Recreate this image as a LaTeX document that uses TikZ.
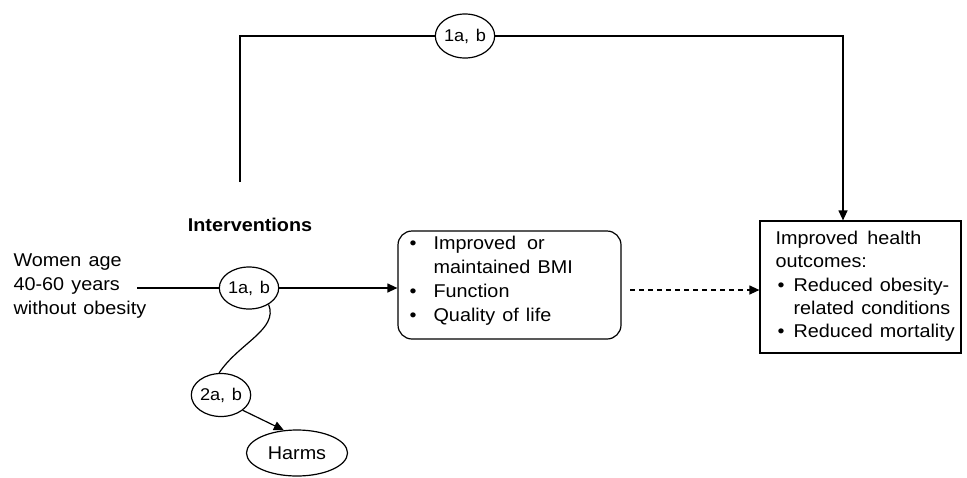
\documentclass[tikz,border=0pt]{standalone}
\usepackage{fontspec}
\setmainfont{Liberation Sans}[FakeStretch=1.07,WordSpace=1.3]
\usetikzlibrary{arrows.meta,shapes.geometric}
\begin{document}
\begin{tikzpicture}[x=1pt,y=-1pt,
  line width=1.2pt,
  txt/.style={font=\fontsize{18.5}{24}\selectfont, align=left, inner sep=0pt},
  lbl/.style={draw, ellipse, font=\fontsize{17}{19}\selectfont, inner sep=0pt,
    minimum width=56pt, minimum height=42pt, fill=white},
  arr/.style={-{Triangle[length=10pt,width=9pt]}},
  dsh/.style={dash pattern=on 5pt off 4pt},
]
\useasboundingbox (0,0) rectangle (967,477);

% nodes
\node[txt, anchor=west] (pop) at (13,286) {Women age\\40-60 years\\without obesity};
\node[txt, font=\bfseries\fontsize{18.5}{24}\selectfont] (int) at (250,225) {Interventions};
\node[lbl] (kq1) at (249,288) {1a, b};
\node[lbl, minimum width=58pt, minimum height=44pt] (kq0) at (465,36) {1a, b};
\node[lbl, minimum width=58pt, minimum height=43pt] (kq2) at (221,395) {2a, b};
\node[draw, ellipse, font=\fontsize{18.5}{20}\selectfont, inner sep=0pt,
  minimum width=101pt, minimum height=46pt] (harms) at (297,453) {Harms};

\node[draw, rounded corners=14pt, minimum width=223pt, minimum height=108pt,
  inner sep=0pt] (inter) at (509.5,285) {};
\node[txt, anchor=west] (intertxt) at (409,281)
  {\makebox[24pt][l]{•}Improved\hspace{0.6em}or\\
   \hspace*{24pt}maintained BMI\\
   \makebox[24pt][l]{•}Function\\
   \makebox[24pt][l]{•}Quality of life};

\node[draw, minimum width=201pt, minimum height=132pt, inner sep=0pt] (out) at (860.5,287) {};
\node[txt, font=\fontsize{18.5}{23.3}\selectfont, anchor=west] (outtxt) at (775,286.5)
  {Improved\hspace{0.5em}health\\
   outcomes:\\
   \hspace*{2pt}\makebox[16pt][l]{•}Reduced obesity-\\
   \hspace*{18pt}related conditions\\
   \hspace*{2pt}\makebox[16pt][l]{•}Reduced mortality};

% connectors
\coordinate (s) at (137,288);
\draw (s) -- (kq1.west);
\draw[arr] (kq1.east) -- (inter.west |- kq1.east);
\coordinate (ds) at (630,290);
\draw[arr, dsh] (ds) -- (out.west |- ds);
\draw (kq1.-40) .. controls +(10,25) and +(20,-30) .. (kq2.95);
\draw[arr] (kq2.-35) -- (harms.120);
\coordinate (tstart) at (240,182);
\draw (tstart) |- (kq0.west);
\draw[arr] (kq0.east) -| ([xshift=-17.5pt]out.north);
\end{tikzpicture}
\end{document}
